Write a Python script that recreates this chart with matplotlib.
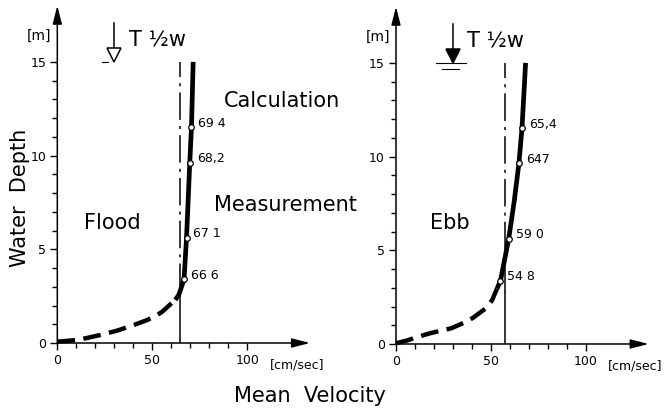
import matplotlib
matplotlib.use('Agg')
import matplotlib.pyplot as plt

# velocity profiles (cm/sec, m)
flood_vel = [0, 10.4, 14.8, 22.7, 31.5, 40.3, 47.4, 52.5, 55.2, 62.1, 63.9, 66.7, 68.0, 69.7, 70.6, 71.5]
flood_depth = [0.07, 0.16, 0.25, 0.43, 0.66, 0.96, 1.23, 1.49, 1.67, 2.30, 2.56, 3.4, 5.6, 9.6, 11.5, 15.0]
flood_split = 9  # dashed below, solid above

ebb_vel = [0, 5.6, 10.9, 17.8, 29.2, 37.0, 40.6, 47.6, 50.6, 53.2, 55.0, 59.3, 62.2, 64.7, 66.3, 67.3, 68.2]
ebb_depth = [0.04, 0.18, 0.36, 0.57, 0.84, 1.19, 1.4, 1.93, 2.34, 2.96, 3.38, 5.6, 7.6, 9.64, 11.5, 13.3, 15.0]
ebb_split = 9

# measured points
flood_meas_vel = [66.7, 68.0, 69.7, 70.6]
flood_meas_depth = [3.4, 5.6, 9.6, 11.5]
flood_meas_labels = ['66 6', '67 1', '68,2', '69 4']

ebb_meas_vel = [55.0, 59.3, 64.7, 66.3]
ebb_meas_depth = [3.38, 5.6, 9.64, 11.5]
ebb_meas_labels = ['54 8', '59 0', '647', '65,4']

flood_mean = 64.5
ebb_mean = 57.5

x_major = [0, 50, 100]
x_minor = [10, 20, 30, 40, 60, 70, 80, 90]
y_major = [0, 5, 10, 15]
y_minor = [1, 2, 3, 4, 6, 7, 8, 9, 11, 12, 13, 14]

fig = plt.figure(figsize=(6.68, 4.08), dpi=100)
fig.patch.set_facecolor('white')

panels = [
    dict(pos=[0.0858, 0.1593, 0.384, 0.836], vel=flood_vel, depth=flood_depth, split=flood_split,
         mv=flood_meas_vel, md=flood_meas_depth, ml=flood_meas_labels, mean=flood_mean,
         name='Flood', name_xy=(13.8, 6.4), filled=False),
    dict(pos=[0.5928, 0.1569, 0.384, 0.836], vel=ebb_vel, depth=ebb_depth, split=ebb_split,
         mv=ebb_meas_vel, md=ebb_meas_depth, ml=ebb_meas_labels, mean=ebb_mean,
         name='Ebb', name_xy=(17.8, 6.44), filled=True),
]

for p in panels:
    ax = fig.add_axes(p['pos'])
    ax.set_xlim(0, 135)
    ax.set_ylim(0, 18.2)
    for s in ax.spines.values():
        s.set_visible(False)
    ax.set_facecolor('none')

    # axes with arrow heads
    arrow = dict(arrowstyle='-|>,head_length=0.55,head_width=0.14', color='black', lw=1.1,
                 mutation_scale=20, shrinkA=0, shrinkB=0)
    ax.annotate('', xy=(133, 0), xytext=(0, 0), arrowprops=arrow, annotation_clip=False)
    ax.annotate('', xy=(0, 18), xytext=(0, 0), arrowprops=arrow, annotation_clip=False)

    ax.set_xticks(x_major)
    ax.set_xticks(x_minor, minor=True)
    ax.set_yticks(y_major)
    ax.set_yticks(y_minor, minor=True)
    ax.tick_params(which='major', length=5, width=1, labelsize=9, pad=3)
    ax.tick_params(which='minor', length=3.5, width=1)

    # mean velocity line
    ax.plot([p['mean'], p['mean']], [0, 2.8], color='black', lw=1.1)
    ax.plot([p['mean'], p['mean']], [2.8, 15], color='black', lw=1.1,
            linestyle=(0, (18, 4, 2, 4)))

    # profile: dashed near the bed, solid above
    k = p['split']
    ax.plot(p['vel'][:k + 1], p['depth'][:k + 1], color='black', lw=3.2,
            linestyle=(0, (4.0, 1.9)), dash_capstyle='butt', clip_on=False)
    ax.plot(p['vel'][k:], p['depth'][k:], color='black', lw=3.4,
            solid_capstyle='butt', solid_joinstyle='round')

    ax.plot(p['mv'], p['md'], 'o', ms=4, mfc='white', mec='black', mew=0.9, zorder=5)
    for v, d, lab in zip(p['mv'], p['md'], p['ml']):
        ax.annotate(lab, (v, d), xytext=(5, 3), textcoords='offset points',
                    fontsize=9, va='center', ha='left')

    ax.text(p['name_xy'][0], p['name_xy'][1], p['name'], fontsize=15, va='center', ha='left')

    # water level symbol
    ax.plot([30, 30], [17.1, 15.5], color='black', lw=1.1, clip_on=False)
    ax.plot(30, 15.35, marker='v', ms=10, mec='black', mew=1.1,
            mfc='black' if p['filled'] else 'white', clip_on=False)
    if p['filled']:
        ax.plot([21, 37], [15.0, 15.0], color='black', lw=0.8, clip_on=False)
        ax.plot([24, 33], [14.65, 14.65], color='black', lw=0.8, clip_on=False)
    else:
        ax.plot([23.5, 26.5], [15.0, 15.0], color='black', lw=0.8, clip_on=False)
    ax.text(37.5, 15.9, 'T ½w', fontsize=15, va='baseline', ha='left')

    ax.text(-9.5, 16.4, '[m]', fontsize=10, va='center', ha='center')
    ax.text(126, -1.2, '[cm/sec]', fontsize=9, va='center', ha='center')

fig.axes[0].text(87.8, 12.9, 'Calculation', fontsize=15, va='center', ha='left')
fig.axes[0].text(82.4, 7.37, 'Measurement', fontsize=15, va='center', ha='left')

fig.text(0.464, 0.0147, 'Mean  Velocity', fontsize=15, ha='center', va='baseline')
fig.text(0.030, 0.515, 'Water  Depth', fontsize=15, ha='center', va='center', rotation=90)

fig.savefig('out.png', dpi=100, facecolor='white')
